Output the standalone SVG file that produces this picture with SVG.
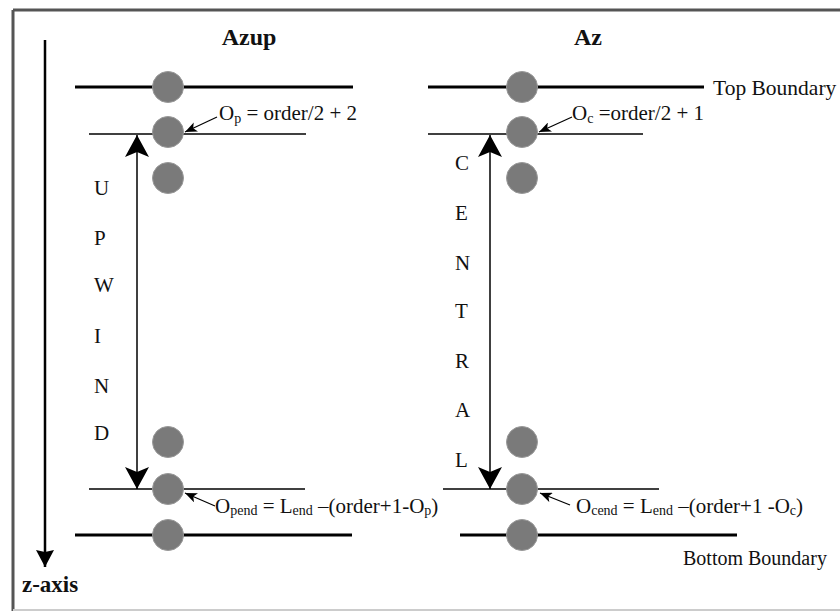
<svg xmlns="http://www.w3.org/2000/svg" width="840" height="612" viewBox="0 0 840 612">
<style>
.t{font-family:"Liberation Serif","Times New Roman",serif;fill:#111}
.f{font-size:21px}
.s{font-size:14px}
.v{font-size:21px}
.h{font-size:24px;font-weight:bold}
.thick{stroke:#000;stroke-width:3;fill:none}
.thin{stroke:#000;stroke-width:1.5;fill:none}
.dot{fill:#7a7a7a;stroke:#999;stroke-width:1}
</style>
<defs>
<marker id="big" markerUnits="userSpaceOnUse" viewBox="0 0 22 24" refX="22" refY="12" markerWidth="22" markerHeight="24" orient="auto-start-reverse">
<path d="M0,0 L22,12 L0,24 L5,12 z" fill="#000"/>
</marker>
<marker id="small" markerUnits="userSpaceOnUse" viewBox="0 0 12 10" refX="12" refY="5" markerWidth="12" markerHeight="10" orient="auto">
<path d="M0,0 L12,5 L0,10 L3,5 z" fill="#000"/>
</marker>
<marker id="axis" markerUnits="userSpaceOnUse" viewBox="0 0 18 18" refX="17" refY="9" markerWidth="18" markerHeight="18" orient="auto">
<path d="M0,0 L17,9 L0,18 L2,9 z" fill="#000"/>
</marker>
</defs>
<rect x="0" y="0" width="840" height="612" fill="#fff"/>
<g id="frame">
<line x1="13" y1="10" x2="840" y2="10" stroke="#555" stroke-width="3"/>
<line x1="13" y1="10" x2="13" y2="611" stroke="#555" stroke-width="3"/>
<line x1="13" y1="610" x2="840" y2="610" stroke="#ccc" stroke-width="2"/>
</g>
<g id="z-axis">
<line x1="45" y1="40" x2="45" y2="567" stroke="#000" stroke-width="2.5" marker-end="url(#axis)"/>
<text class="t" x="22" y="592" style="font-size:23px;font-weight:bold">z-axis</text>
</g>
<g id="azup">
<text class="t h" x="249" y="45" text-anchor="middle">Azup</text>
<line class="thick" x1="75" y1="87" x2="353" y2="87"/>
<line class="thin" x1="89" y1="134" x2="306" y2="134"/>
<line class="thin" x1="89" y1="489" x2="305" y2="489"/>
<line class="thick" x1="75" y1="535" x2="352" y2="535"/>
<circle class="dot" cx="168" cy="87" r="15.5"/>
<circle class="dot" cx="168" cy="132" r="15.5"/>
<circle class="dot" cx="168" cy="178" r="15.5"/>
<circle class="dot" cx="168" cy="442" r="15.5"/>
<circle class="dot" cx="168" cy="489" r="15.5"/>
<circle class="dot" cx="168" cy="535" r="15.5"/>
<text class="t v" x="94" y="195">U</text>
<text class="t v" x="94" y="245">P</text>
<text class="t v" x="94" y="292">W</text>
<text class="t v" x="94" y="343">I</text>
<text class="t v" x="94" y="393">N</text>
<text class="t v" x="94" y="440">D</text>
<text class="t f" x="219" y="120">O<tspan class="s" dy="3">p</tspan><tspan dy="-3"> = order/2 + 2</tspan></text>
<text class="t f" x="215" y="513">O<tspan class="s" dy="2">pend</tspan><tspan dy="-2"> = L</tspan><tspan class="s" dy="2">end</tspan><tspan dy="-2"> –(order+1-O</tspan><tspan class="s" dy="2">p</tspan><tspan dy="-2">)</tspan></text>
</g>
<g id="az">
<text class="t h" x="588" y="45" text-anchor="middle">Az</text>
<line class="thick" x1="428" y1="87" x2="704" y2="87"/>
<line class="thin" x1="428" y1="134" x2="643" y2="134"/>
<line class="thin" x1="443" y1="489" x2="659" y2="489"/>
<line class="thick" x1="460" y1="535" x2="737" y2="535"/>
<circle class="dot" cx="522" cy="87" r="15.5"/>
<circle class="dot" cx="522" cy="132" r="15.5"/>
<circle class="dot" cx="522" cy="178" r="15.5"/>
<circle class="dot" cx="522" cy="442" r="15.5"/>
<circle class="dot" cx="522" cy="489" r="15.5"/>
<circle class="dot" cx="522" cy="535" r="15.5"/>
<text class="t v" x="455" y="170">C</text>
<text class="t v" x="455" y="220">E</text>
<text class="t v" x="455" y="270">N</text>
<text class="t v" x="455" y="318">T</text>
<text class="t v" x="455" y="368">R</text>
<text class="t v" x="455" y="417">A</text>
<text class="t v" x="455" y="467">L</text>
<text class="t f" x="572" y="120">O<tspan class="s" dy="3">c</tspan><tspan dy="-3"> =order/2 + 1</tspan></text>
<text class="t f" x="576" y="513">O<tspan class="s" dy="2">cend</tspan><tspan dy="-2"> = L</tspan><tspan class="s" dy="2">end</tspan><tspan dy="-2"> –(order+1 -O</tspan><tspan class="s" dy="2">c</tspan><tspan dy="-2">)</tspan></text>
<text class="t f" x="713" y="95" style="font-size:21.5px">Top Boundary</text>
<text class="t f" x="683" y="565" style="font-size:20px">Bottom Boundary</text>
</g>
<g id="connectors">
<line x1="137" y1="135" x2="137" y2="489" stroke="#000" stroke-width="1.5" marker-start="url(#big)" marker-end="url(#big)"/>
<line x1="490" y1="135" x2="490" y2="489" stroke="#000" stroke-width="1.5" marker-start="url(#big)" marker-end="url(#big)"/>
<line x1="217" y1="117" x2="185" y2="132" stroke="#000" stroke-width="1.2" marker-end="url(#small)"/>
<line x1="572" y1="117" x2="539" y2="132" stroke="#000" stroke-width="1.2" marker-end="url(#small)"/>
<line x1="215" y1="506" x2="185" y2="493" stroke="#000" stroke-width="1.2" marker-end="url(#small)"/>
<line x1="570" y1="505" x2="540" y2="493" stroke="#000" stroke-width="1.2" marker-end="url(#small)"/>
</g>
</svg>
